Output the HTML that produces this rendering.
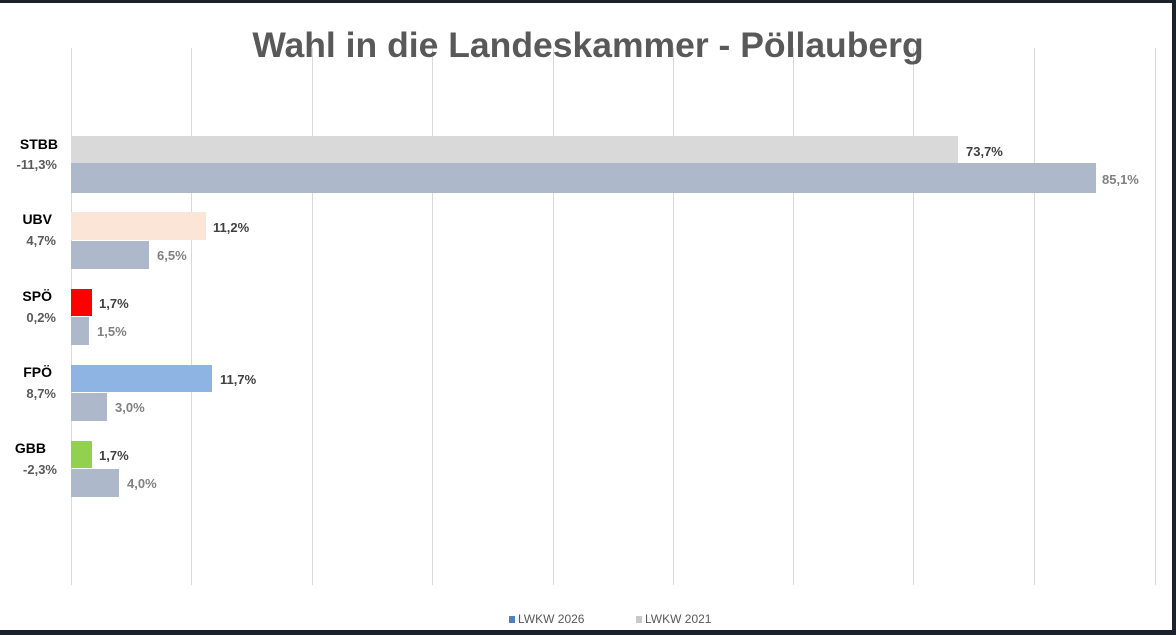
<!DOCTYPE html>
<html><head><meta charset="utf-8"><style>
body{margin:0;width:1176px;height:635px;background:#1b222c;overflow:hidden;font-family:"Liberation Sans",sans-serif}
#c{position:absolute;left:0;top:3px;width:1172px;height:627px;background:#fff}
.g{position:absolute;top:45px;height:537px;width:1px;background:#d9d9d9}
.b{position:absolute;left:71px}
.l{position:absolute;font-weight:bold;font-size:13px}
.n{position:absolute;font-weight:bold;font-size:14px;color:#000;text-align:right;width:60px}
.d{position:absolute;font-weight:bold;font-size:13px;color:#595959;text-align:right;width:62px}
</style></head><body><div id="c">
<div class="g" style="left:71px"></div><div class="g" style="left:191px"></div><div class="g" style="left:312px"></div><div class="g" style="left:432px"></div><div class="g" style="left:553px"></div><div class="g" style="left:673px"></div><div class="g" style="left:793px"></div><div class="g" style="left:913px"></div><div class="g" style="left:1034px"></div><div class="g" style="left:1155px"></div>
<div style="position:absolute;left:0;width:1176px;top:22px;text-align:center;font-size:35.5px;font-weight:bold;color:#595959">Wahl in die Landeskammer - Pöllauberg</div>

<div class="b" style="top:133px;height:27px;width:887px;background:#d9d9d9"></div>
<div class="b" style="top:160px;height:30px;width:1025px;background:#adb9ca"></div>
<div class="l" style="left:966px;top:141px;color:#404040">73,7%</div>
<div class="l" style="left:1102px;top:169px;color:#808080">85,1%</div>
<div class="n" style="left:-2px;top:133px">STBB</div>
<div class="d" style="left:-5px;top:154px">-11,3%</div>

<div class="b" style="top:209px;height:28px;width:135px;background:#fbe5d6"></div>
<div class="b" style="top:238px;height:28px;width:78px;background:#adb9ca"></div>
<div class="l" style="left:213px;top:217px;color:#404040">11,2%</div>
<div class="l" style="left:157px;top:245px;color:#808080">6,5%</div>
<div class="n" style="left:-8px;top:208px">UBV</div>
<div class="d" style="left:-6px;top:230px">4,7%</div>

<div class="b" style="top:286px;height:27px;width:21px;background:#ff0000"></div>
<div class="b" style="top:314px;height:28px;width:18px;background:#adb9ca"></div>
<div class="l" style="left:99px;top:293px;color:#404040">1,7%</div>
<div class="l" style="left:97px;top:321px;color:#808080">1,5%</div>
<div class="n" style="left:-8px;top:285px">SPÖ</div>
<div class="d" style="left:-6px;top:307px">0,2%</div>

<div class="b" style="top:362px;height:27px;width:141px;background:#8eb4e3"></div>
<div class="b" style="top:390px;height:28px;width:36px;background:#adb9ca"></div>
<div class="l" style="left:220px;top:369px;color:#404040">11,7%</div>
<div class="l" style="left:115px;top:397px;color:#808080">3,0%</div>
<div class="n" style="left:-8px;top:361px">FPÖ</div>
<div class="d" style="left:-6px;top:383px">8,7%</div>

<div class="b" style="top:438px;height:27px;width:21px;background:#92d050"></div>
<div class="b" style="top:466px;height:28px;width:48px;background:#adb9ca"></div>
<div class="l" style="left:99px;top:445px;color:#404040">1,7%</div>
<div class="l" style="left:127px;top:473px;color:#808080">4,0%</div>
<div class="n" style="left:-14px;top:437px">GBB</div>
<div class="d" style="left:-5px;top:459px">-2,3%</div>

<div style="position:absolute;left:509px;top:613px;width:6px;height:7px;background:#4f81bd"></div>
<div style="position:absolute;left:518px;top:609px;font-size:12px;color:#595959">LWKW 2026</div>
<div style="position:absolute;left:636px;top:613px;width:6px;height:7px;background:#c8c8c8"></div>
<div style="position:absolute;left:645px;top:609px;font-size:12px;color:#595959">LWKW 2021</div>
</div></body></html>
